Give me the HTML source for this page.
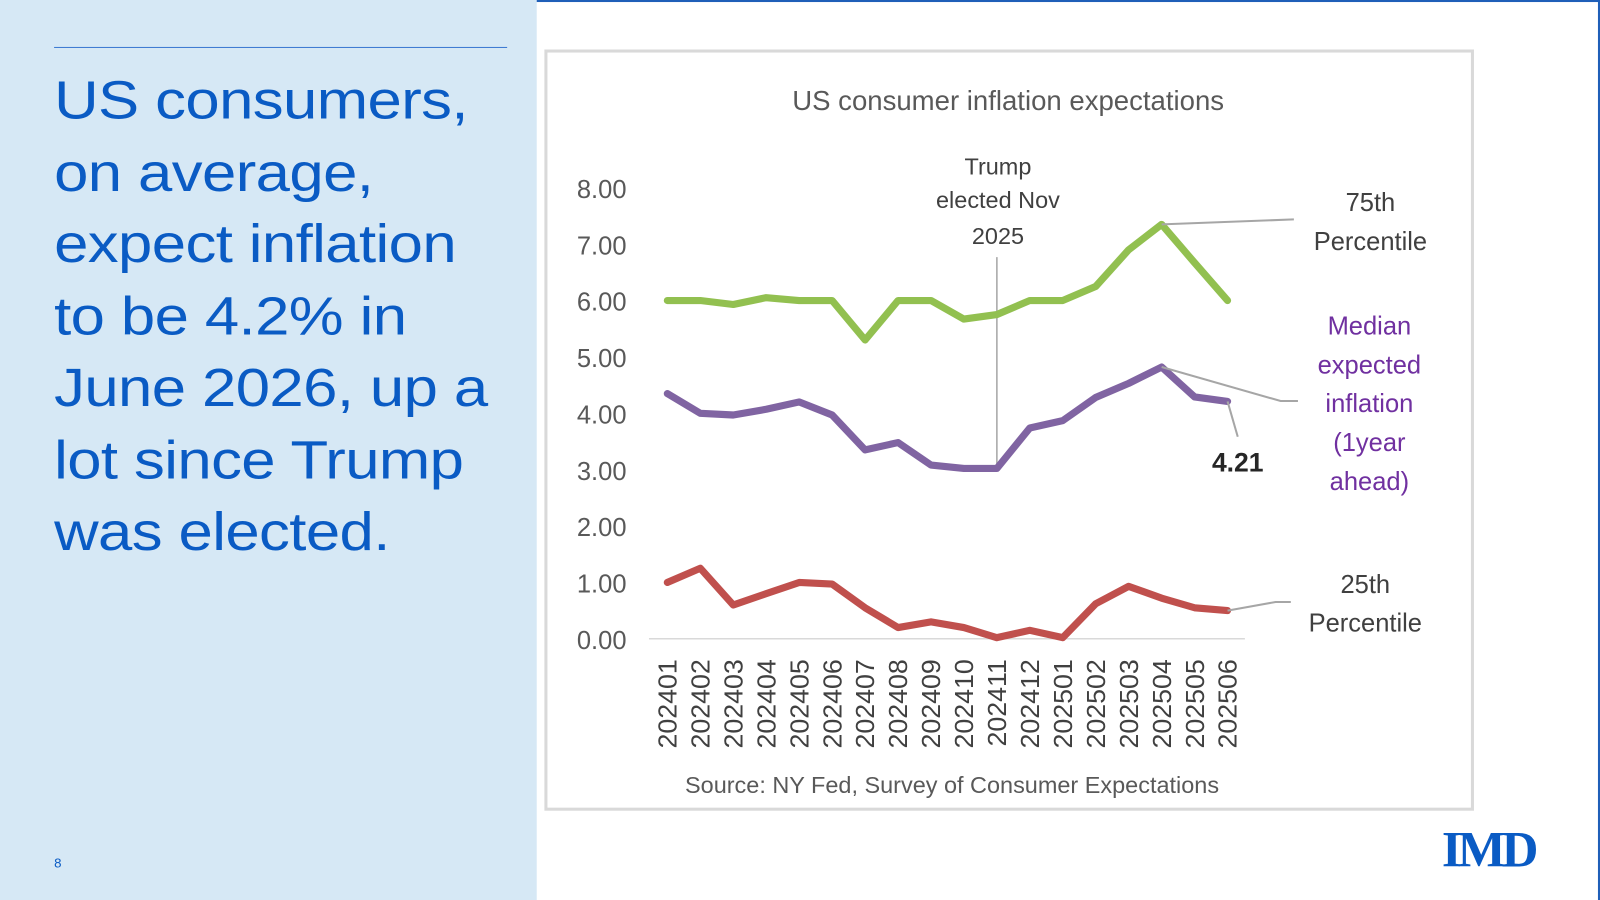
<!DOCTYPE html>
<html><head><meta charset="utf-8"><style>
html,body{margin:0;padding:0;width:1600px;height:900px;overflow:hidden;background:#fff}
#wrap{position:absolute;left:0;top:0;width:1568px;height:882px;transform-origin:0 0;transform:scale(1.020408,1.020408)}
#left{position:absolute;left:0;top:0;width:526px;height:882px;background:#d6e8f5}
#rule{position:absolute;left:53px;top:46px;width:444px;height:1px;background:#3a78d0}
#headline{position:absolute;left:53px;top:64px;width:420px;white-space:nowrap;font-family:"Liberation Sans",sans-serif;font-size:53px;line-height:70.5px;color:#0a5bc4;letter-spacing:-0.5px;transform-origin:0 0;transform:scaleX(1.14)}
#pagenum{position:absolute;left:53px;top:838px;font-family:"Liberation Sans",sans-serif;font-size:13px;color:#0a5bc4}
#topline{position:absolute;left:526px;top:0;width:1042px;height:2px;background:#1f5fb8}
#rightline{position:absolute;left:1566px;top:0;width:2px;height:882px;background:#1f5fb8}
#logo{position:absolute;left:1413px;top:803px;font-family:"Liberation Serif",serif;font-weight:bold;font-size:50px;color:#0a5bc4;letter-spacing:-4px}
svg{position:absolute;left:0;top:0}
</style></head><body>
<div id="wrap">
<div id="left"></div>
<div id="rule"></div>
<div id="headline">US consumers,<br>on average,<br>expect inflation<br>to be 4.2% in<br>June 2026, up a<br>lot since Trump<br>was elected.</div>
<div id="pagenum">8</div>
<div id="topline"></div>
<div id="rightline"></div>
<div id="logo">IMD</div>
<svg id="chart" width="1568" height="882" font-family="Liberation Sans, sans-serif"></svg>
</div>
<script>
const categories=["202401","202402","202403","202404","202405","202406","202407","202408","202409","202410","202411","202412","202501","202502","202503","202504","202505","202506"];
const p75=[6.0,6.0,5.93,6.05,6.0,6.0,5.3,6.0,6.0,5.67,5.75,6.0,6.0,6.25,6.9,7.35,6.67,6.0];
const median=[4.35,4.0,3.97,4.07,4.2,3.97,3.35,3.48,3.08,3.02,3.02,3.74,3.87,4.28,4.53,4.82,4.29,4.21];
const p25=[1.0,1.25,0.6,0.8,1.0,0.97,0.55,0.2,0.3,0.2,0.02,0.15,0.02,0.62,0.93,0.72,0.55,0.5];
const yTicks=[0,1,2,3,4,5,6,7,8];

const NS="http://www.w3.org/2000/svg";
const svg=document.getElementById('chart');
const x=i=>654+i*(1203-654)/(categories.length-1);
const y=v=>626-v*(626-184)/8;
function mk(tag,attrs,parent){const e=document.createElementNS(NS,tag);for(const k in attrs)e.setAttribute(k,attrs[k]);(parent||svg).appendChild(e);return e;}
function txt(s,X,Y,attrs){const t=mk('text',Object.assign({x:X,y:Y},attrs));t.textContent=s;return t;}

const frame=mk('rect',{x:535,y:50,width:908,height:743,fill:'#fff',stroke:'#d9d9d9','stroke-width':3});


const title=txt('US consumer inflation expectations',988,108,{'text-anchor':'middle','font-size':27,fill:'#595959'});



yTicks.forEach(v=>{
  const t=txt(v.toFixed(2),614,y(v)+10,{'text-anchor':'end','font-size':25,fill:'#595959'});
  
  
});
const ax=mk('line',{x1:636,x2:1220,y1:y(0),y2:y(0),stroke:'#d9d9d9','stroke-width':1.5});


categories.forEach((c,i)=>{
  const t=txt(c,0,0,{'font-size':25,fill:'#404040','text-anchor':'end',transform:`translate(${x(i)+9},${y(0)+20}) rotate(-90) scale(1.05,1)`});
  
  
});

const vl=mk('line',{x1:x(10),x2:x(10),y1:252,y2:y(median[10]),stroke:'#a6a6a6','stroke-width':1.5});


[['Trump',171],['elected Nov',204],['2025',239]].forEach(([s,Y])=>{
  const t=txt(s,978,Y,{'text-anchor':'middle','font-size':23,fill:'#404040'});
  
  
});

function series(vals,color,name){
  const d=vals.map((v,i)=>(i?'L':'M')+x(i).toFixed(1)+','+y(v).toFixed(1)).join(' ');
  const p=mk('path',{d,fill:'none',stroke:color,'stroke-width':7,'stroke-linejoin':'round','stroke-linecap':'round'});
  
  
}
series(p75,'#92c050','line-75th-percentile');
series(median,'#8064a2','line-median');
series(p25,'#c0504d','line-25th-percentile');

function leader(pts,name){const l=mk('polyline',{points:pts,fill:'none',stroke:'#a6a6a6','stroke-width':2});
  
  }
leader(`${x(15)},${y(p75[15])} 1268,215`,'leader-75th');
leader(`${x(15)},${y(median[15])} 1255,393 1272,393`,'leader-median');
leader(`${x(17)},${y(median[17])} 1213,428`,'leader-value');
leader(`${x(17)},${y(p25[17])} 1250,590 1265,590`,'leader-25th');

function label(lines,X,Y0,step,color,name,extra){
  lines.forEach((s,i)=>{const t=txt(s,X,Y0+i*step,Object.assign({'text-anchor':'middle','font-size':25,fill:color},extra||{}));
    
    });
}
label(['75th','Percentile'],1343,207,38,'#404040','label-75th');
label(['Median','expected','inflation','(1year','ahead)'],1342,328,38,'#7030a0','label-median');
label(['25th','Percentile'],1338,581,38,'#404040','label-25th');
label([median[17].toFixed(2)],1213,462,0,'#262626','median-last-value',{'font-weight':'bold','font-size':26});
label(['Source: NY Fed, Survey of Consumer Expectations'],933,777,0,'#595959','source-note',{'font-size':23});
</script>
</body></html>
